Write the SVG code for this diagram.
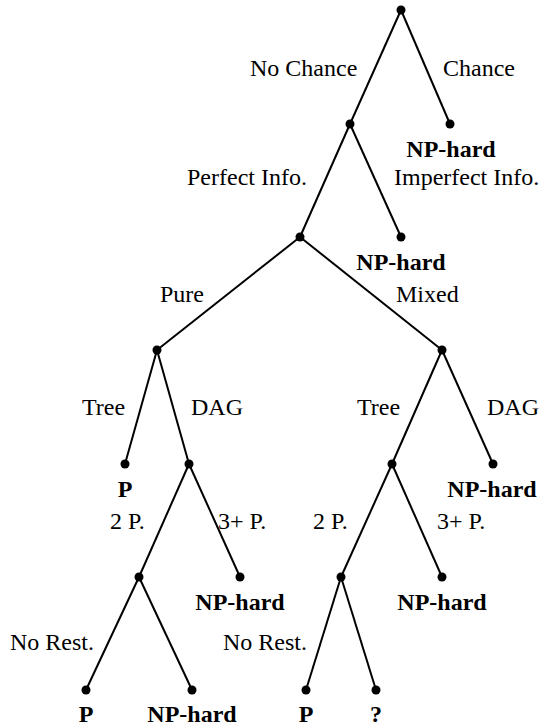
<svg xmlns="http://www.w3.org/2000/svg" width="540" height="727" viewBox="0 0 540 727">
  <style>
    .edge { stroke: #000; stroke-width: 2; fill: none; }
    .dot { fill: #000; }
    .lbl { font-family: "Liberation Serif", "Times New Roman", serif; font-size: 24px; fill: #000; }
    .res { font-family: "Liberation Serif", "Times New Roman", serif; font-size: 24px; font-weight: bold; fill: #000; text-anchor: middle; }
  </style>
  <rect width="540" height="727" fill="#fff"/>

  <!-- tree edges -->
  <g id="connectors">
    <line class="edge" x1="401" y1="10" x2="350" y2="124"/>
    <line class="edge" x1="401" y1="10" x2="450" y2="124"/>
    <line class="edge" x1="350" y1="124" x2="300" y2="237"/>
    <line class="edge" x1="350" y1="124" x2="401" y2="237"/>
    <line class="edge" x1="300" y1="237" x2="157" y2="350"/>
    <line class="edge" x1="300" y1="237" x2="442" y2="350"/>
    <line class="edge" x1="157" y1="350" x2="125" y2="464"/>
    <line class="edge" x1="157" y1="350" x2="189" y2="464"/>
    <line class="edge" x1="442" y1="350" x2="392" y2="464"/>
    <line class="edge" x1="442" y1="350" x2="493" y2="464"/>
    <line class="edge" x1="189" y1="464" x2="139" y2="577"/>
    <line class="edge" x1="189" y1="464" x2="240" y2="577"/>
    <line class="edge" x1="392" y1="464" x2="341" y2="577"/>
    <line class="edge" x1="392" y1="464" x2="442" y2="577"/>
    <line class="edge" x1="139" y1="577" x2="86" y2="690"/>
    <line class="edge" x1="139" y1="577" x2="192" y2="690"/>
    <line class="edge" x1="341" y1="577" x2="306" y2="690"/>
    <line class="edge" x1="341" y1="577" x2="376" y2="690"/>
  </g>

  <!-- edge labels -->
  <g id="edge-labels">
    <text class="lbl" x="250" y="76">No Chance</text>
    <text class="lbl" x="443" y="76">Chance</text>
    <text class="lbl" x="187" y="185">Perfect Info.</text>
    <text class="lbl" x="394" y="185">Imperfect Info.</text>
    <text class="lbl" x="160" y="302">Pure</text>
    <text class="lbl" x="396" y="302">Mixed</text>
    <text class="lbl" x="82" y="415">Tree</text>
    <text class="lbl" x="191" y="415">DAG</text>
    <text class="lbl" x="357" y="415">Tree</text>
    <text class="lbl" x="487" y="415">DAG</text>
    <text class="lbl" x="110" y="529">2 P.</text>
    <text class="lbl" x="218" y="529">3+ P.</text>
    <text class="lbl" x="313" y="529">2 P.</text>
    <text class="lbl" x="437" y="529">3+ P.</text>
    <text class="lbl" x="10" y="650">No Rest.</text>
    <text class="lbl" x="223" y="650">No Rest.</text>
  </g>

  <!-- nodes -->
  <g id="root"><circle class="dot" cx="401" cy="10" r="4.5"/></g>
  <g id="chance"><circle class="dot" cx="450" cy="124" r="4.5"/><text class="res" x="451" y="157">NP-hard</text></g>
  <g id="no-chance"><circle class="dot" cx="350" cy="124" r="4.5"/></g>
  <g id="imperfect"><circle class="dot" cx="401" cy="237" r="4.5"/><text class="res" x="401" y="270">NP-hard</text></g>
  <g id="perfect"><circle class="dot" cx="300" cy="237" r="4.5"/></g>
  <g id="pure"><circle class="dot" cx="157" cy="350" r="4.5"/></g>
  <g id="mixed"><circle class="dot" cx="442" cy="350" r="4.5"/></g>
  <g id="pure-tree"><circle class="dot" cx="125" cy="464" r="4.5"/><text class="res" x="125" y="497">P</text></g>
  <g id="pure-dag"><circle class="dot" cx="189" cy="464" r="4.5"/></g>
  <g id="mixed-tree"><circle class="dot" cx="392" cy="464" r="4.5"/></g>
  <g id="mixed-dag"><circle class="dot" cx="493" cy="464" r="4.5"/><text class="res" x="492" y="497">NP-hard</text></g>
  <g id="pure-dag-2p"><circle class="dot" cx="139" cy="577" r="4.5"/></g>
  <g id="pure-dag-3p"><circle class="dot" cx="240" cy="577" r="4.5"/><text class="res" x="240" y="610">NP-hard</text></g>
  <g id="mixed-tree-2p"><circle class="dot" cx="341" cy="577" r="4.5"/></g>
  <g id="mixed-tree-3p"><circle class="dot" cx="442" cy="577" r="4.5"/><text class="res" x="442" y="610">NP-hard</text></g>
  <g id="pure-dag-2p-norest"><circle class="dot" cx="86" cy="690" r="4.5"/><text class="res" x="86" y="722">P</text></g>
  <g id="pure-dag-2p-rest"><circle class="dot" cx="192" cy="690" r="4.5"/><text class="res" x="192" y="722">NP-hard</text></g>
  <g id="mixed-tree-2p-norest"><circle class="dot" cx="306" cy="690" r="4.5"/><text class="res" x="306" y="722">P</text></g>
  <g id="mixed-tree-2p-rest"><circle class="dot" cx="376" cy="690" r="4.5"/><text class="res" x="376" y="722">?</text></g>
</svg>
